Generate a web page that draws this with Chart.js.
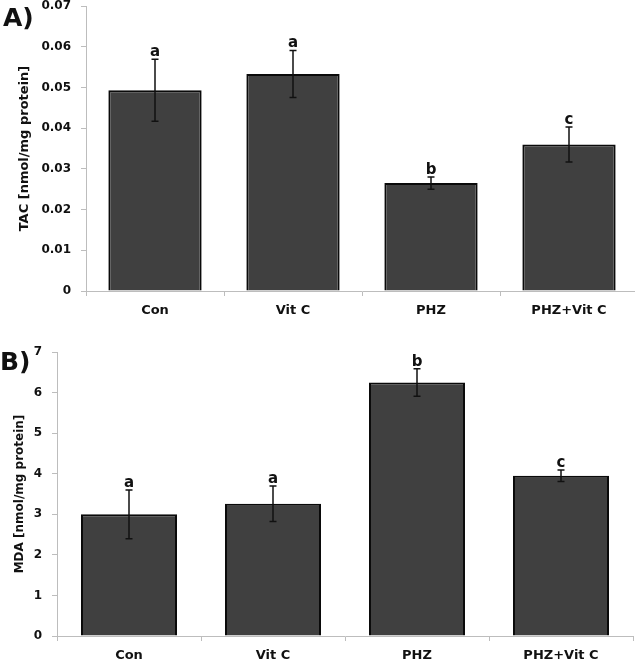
<!DOCTYPE html>
<html>
<head>
<meta charset="utf-8">
<script src="https://cdn.jsdelivr.net/npm/chart.js@4.4.1/dist/chart.umd.min.js"></script>
<style>
  html, body { margin: 0; padding: 0; background: #fff; overflow: hidden; width: 635px; height: 666px; }
  .wrap { position: absolute; left: 0; }
  #wa { top: 0; width: 640px; height: 330px; }
  #wb { top: 330px; width: 640px; height: 336px; }
</style>
</head>
<body>
<div class="wrap" id="wa"><canvas id="ca" width="640" height="330"></canvas></div>
<div class="wrap" id="wb"><canvas id="cb" width="640" height="336"></canvas></div>
<script>
// ---- data ----
const categories = ['Con', 'Vit C', 'PHZ', 'PHZ+Vit C'];

const tacMeans = [0.0493, 0.0533, 0.0265, 0.0360];
const tacSD    = [0.0076, 0.0058, 0.0015, 0.0043];
const tacLetters = ['a', 'a', 'b', 'c'];

const mdaMeans = [3.00, 3.26, 6.25, 3.95];
const mdaSD    = [0.60, 0.44, 0.34, 0.14];
const mdaLetters = ['a', 'a', 'b', 'c'];

const FONT = "'DejaVu Sans', 'Liberation Sans', sans-serif";
const AXIS_GRAY = '#bdbdbd';

function errorPlugin(sd, letters, panelLabel, labelX, labelY) {
  return {
    id: 'errbars',
    afterDatasetsDraw(chart) {
      const ctx = chart.ctx;
      const meta = chart.getDatasetMeta(0);
      const ys = chart.scales.y;
      const vals = chart.data.datasets[0].data;
      ctx.save();
      ctx.strokeStyle = '#111';
      ctx.lineWidth = 1.5;
      meta.data.forEach((bar, i) => {
        const x = bar.x;
        const yHi = ys.getPixelForValue(vals[i] + sd[i]);
        const yLo = ys.getPixelForValue(vals[i] - sd[i]);
        ctx.beginPath();
        ctx.moveTo(x, yHi); ctx.lineTo(x, yLo);
        ctx.moveTo(x - 3.5, yHi); ctx.lineTo(x + 3.5, yHi);
        ctx.moveTo(x - 3.5, yLo); ctx.lineTo(x + 3.5, yLo);
        ctx.stroke();
        ctx.fillStyle = '#111';
        ctx.font = 'bold 15px ' + FONT;
        ctx.textAlign = 'center';
        ctx.textBaseline = 'alphabetic';
        ctx.fillText(letters[i], x, yHi - 3);
      });
      ctx.font = 'bold 25px ' + FONT;
      ctx.textAlign = 'left';
      ctx.fillStyle = '#111';
      ctx.fillText(panelLabel, labelX, labelY);
      ctx.restore();
    }
  };
}

function makeChart(canvasId, values, sd, letters, cfg) {
  return new Chart(document.getElementById(canvasId), {
    type: 'bar',
    data: {
      labels: categories,
      datasets: [{
        data: values,
        backgroundColor: '#404040',
        borderColor: '#0a0a0a',
        borderWidth: 2,
        borderSkipped: 'bottom',
        categoryPercentage: 1.0,
        barPercentage: cfg.barPct
      }]
    },
    options: {
      responsive: false,
      animation: false,
      devicePixelRatio: 1,
      layout: { padding: cfg.padding, autoPadding: false },
      plugins: { legend: { display: false }, tooltip: { enabled: false } },
      scales: {
        x: {
          grid: { display: true, drawOnChartArea: false, color: AXIS_GRAY, tickLength: 5, offset: true },
          border: { display: true, color: AXIS_GRAY, width: 1 },
          ticks: { color: '#111', font: { family: FONT, weight: 'bold', size: 13 }, padding: cfg.xPad, maxRotation: 0 },
          afterFit(scale) { scale.height = cfg.xHeight; scale.paddingLeft = 0; scale.paddingRight = 0; }
        },
        y: {
          min: 0, max: cfg.max,
          grid: { display: true, drawOnChartArea: false, color: AXIS_GRAY, tickLength: 5 },
          border: { display: true, color: AXIS_GRAY, width: 1 },
          ticks: { stepSize: cfg.step, color: '#111', font: { family: FONT, weight: 'bold', size: 12 }, padding: 10 },
          title: { display: true, text: cfg.title, color: '#111', font: { family: FONT, weight: 'bold', size: cfg.titleSize }, padding: { top: cfg.titlePad, bottom: 0 } },
          afterFit(scale) { scale.width = cfg.yWidth; scale.paddingTop = 0; scale.paddingBottom = 0; }
        }
      }
    },
    plugins: [errorPlugin(sd, letters, cfg.panel, cfg.labelX, cfg.labelY)]
  });
}

makeChart('ca', tacMeans, tacSD, tacLetters, {
  barPct: 0.676, max: 0.07, step: 0.01,
  title: 'TAC [nmol/mg protein]', titleSize: 13, titlePad: 17,
  yWidth: 86, xHeight: 39, xPad: 7,
  padding: { left: 0, right: 2, top: 6, bottom: 0 },
  panel: 'A)', labelX: 3, labelY: 26
});

makeChart('cb', mdaMeans, mdaSD, mdaLetters, {
  barPct: 0.667, max: 7, step: 1,
  title: 'MDA [nmol/mg protein]', titleSize: 12, titlePad: 13,
  yWidth: 57, xHeight: 30, xPad: 7,
  padding: { left: 0, right: 7, top: 22, bottom: 0 },
  panel: 'B)', labelX: 0, labelY: 40
});
</script>
</body>
</html>
